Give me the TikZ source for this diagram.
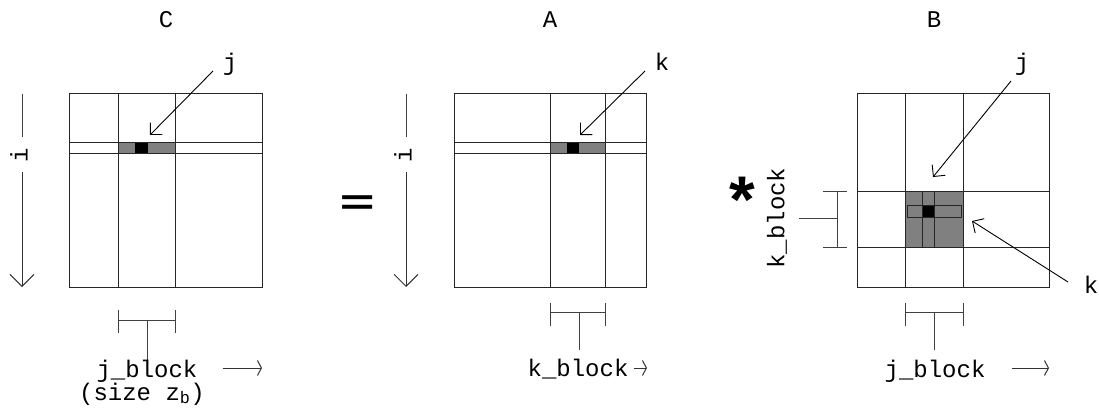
\documentclass[tikz,border=0pt]{standalone}
\usepackage{fontspec}
\setmonofont{Liberation Mono}
\setsansfont{Liberation Sans}
\newfontfamily\opfont{DejaVu Sans}
\usetikzlibrary{arrows.meta,positioning}

\begin{document}
\begin{tikzpicture}[x=1pt,y=-1pt,
  every node/.style={font=\fontsize{24}{28}\selectfont\ttfamily,inner sep=0pt},
  grid/.style={draw=black!85,line width=1pt},
  ptr/.style={-{Straight Barb[length=8.5pt,width=17pt]},line width=0.9pt},
  downarr/.style={-{Straight Barb[length=12pt,width=24pt]},line width=1pt,draw=black!80},
  rarr/.style={-{Straight Barb[length=4pt,width=15pt]},line width=1pt,draw=black!80},
  brk/.style={line width=1pt,draw=black!75}]
  \useasboundingbox (0,0) rectangle (1099,414);

  % matrix C
  \fill[gray] (118,143) rectangle (175,154);
  \fill[black] (135,143) rectangle (148,154);
  \draw[grid] (69,94) rectangle (262,287);
  \draw[grid] (69,143) rectangle (262,154);
  \draw[grid] (118,94) -- (118,287) (175,94) -- (175,287);
  \node[anchor=base] (titleC) at (166,28) {C};
  \node[anchor=base] (jC) at (230,71) {j};
  \draw[ptr] (213,71) -- (150,135);
  \node[rotate=90] (iC) at (19,155) {i};
  \draw[brk] (22,94) -- (22,137);
  \draw[downarr] (22,172) -- (22,287);
  \draw[brk] (118,310) -- (118,333) (175,310) -- (175,333);
  \draw[brk] (118,320) -- (175,320) (147,320) -- (147,364);
  \node[anchor=base] (jbC) at (147,377) {j\_block};
  \node[anchor=base] (szC) at (142,400) {(size z\textsubscript{b})};
  \draw[rarr] (223,368) -- (262,368);

  \node[font=\fontsize{48}{48}\selectfont\opfont] (eq) at (358,207) {=};

  % matrix A
  \fill[gray] (550,143) rectangle (605,154);
  \fill[black] (567,143) rectangle (579,154);
  \draw[grid] (454,94) rectangle (646,287);
  \draw[grid] (454,143) rectangle (646,154);
  \draw[grid] (550,94) -- (550,287) (605,94) -- (605,287);
  \node[anchor=base] (titleA) at (550,28) {A};
  \node[anchor=base] (kA) at (662,71) {k};
  \draw[ptr] (645,71) -- (580,135);
  \node[rotate=90] (iA) at (403,155) {i};
  \draw[brk] (406,94) -- (406,137);
  \draw[downarr] (406,172) -- (406,287);
  \draw[brk] (550,303) -- (550,326) (605,303) -- (605,326);
  \draw[brk] (550,312) -- (605,312) (579,312) -- (579,350);
  \node[anchor=base] (kbA) at (578,376) {k\_block};
  \draw[rarr] (634,368) -- (647,368);

  \node[font=\fontsize{66}{66}\selectfont\sffamily\bfseries] (star) at (742,200) {*};

  % matrix B
  \fill[gray] (905,191) rectangle (963,247);
  \fill[black] (922,205) rectangle (934,217);
  \draw[grid] (857,94) rectangle (1049,287);
  \draw[grid] (905,94) -- (905,287) (963,94) -- (963,287);
  \draw[grid] (857,191) -- (1049,191) (857,247) -- (1049,247);
  \draw[grid] (922,191) rectangle (934,247);
  \draw[grid] (907,205) rectangle (961,217);
  \node[anchor=base] (titleB) at (934,28) {B};
  \node[anchor=base] (jB) at (1022,71) {j};
  \draw[ptr] (1011,81) -- (933,177);
  \node[anchor=base] (kB) at (1091,293) {k};
  \draw[ptr] (1068,282) -- (972,221);
  \draw[brk] (823,191) -- (847,191) (823,247) -- (847,247);
  \draw[brk] (837,191) -- (837,247) (837,218) -- (799,218);
  \node[rotate=90] (kbB) at (777,218) {k\_block};
  \draw[brk] (905,303) -- (905,326) (963,303) -- (963,326);
  \draw[brk] (905,312) -- (963,312) (934,312) -- (934,350);
  \node[anchor=base] (jbB) at (935,377) {j\_block};
  \draw[rarr] (1012,368) -- (1049,368);
\end{tikzpicture}
\end{document}
